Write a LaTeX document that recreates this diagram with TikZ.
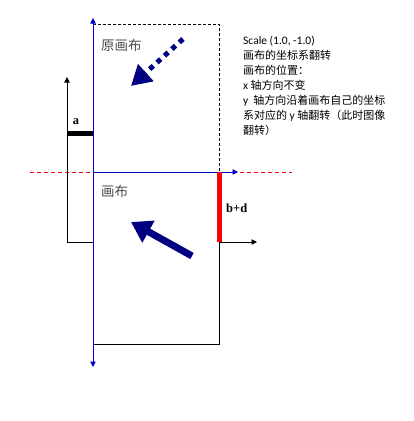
\documentclass[tikz,border=0pt]{standalone}
\usepackage{fontspec}
\setmainfont{Liberation Serif}
\newfontfamily\cjk{Noto Sans CJK SC}
\newfontfamily\calib{Carlito}
\usetikzlibrary{arrows.meta}
\definecolor{axblue}{RGB}{0,0,200}
\definecolor{navyc}{RGB}{0,0,128}
\begin{document}
\begin{tikzpicture}[x=1pt,y=-1pt,
  blueax/.style={axblue, line width=0.9pt, -{Triangle[length=5.5pt,width=5.5pt]}},
  blackax/.style={black, line width=0.9pt, -{Triangle[length=5.5pt,width=5.5pt]}},
  thinline/.style={black, line width=0.9pt},
  graytext/.style={text=black!70, font=\cjk\fontsize{13.5}{14}\selectfont, inner sep=0pt},
  barlabel/.style={font=\bfseries\fontsize{12.5}{13}\selectfont, inner sep=0pt}]
\useasboundingbox (0,0) rectangle (414,421);
% coordinates
\coordinate (O) at (93,172);
\coordinate (Otop) at (93,18);
\coordinate (Obot) at (93,367);
\coordinate (Hend) at (238,172);
\coordinate (DTL) at (93,24);
\coordinate (DTR) at (219,24);
\coordinate (DBR) at (219,172);
\coordinate (Rl) at (30,172);
\coordinate (Rr) at (292,172);
\coordinate (Ltop) at (67,77);
\coordinate (Lbot) at (67,242);
\coordinate (Lcorner) at (93,242);
\coordinate (Aleft) at (67,133);
\coordinate (Aright) at (93,133);
\coordinate (Bt) at (219,172);
\coordinate (Bb) at (219,242);
\coordinate (Xend) at (257,242);
\coordinate (RB) at (219,344);
\coordinate (LB) at (93,344);
% red dashed line
\draw[red, line width=0.7pt, dash pattern=on 4pt off 3pt] (Rl) -- (Rr);
% dashed original canvas
\draw[thinline, dash pattern=on 3pt off 2pt] (DTL) -- (DTR) -- (DBR);
% canvas rectangle
\draw[thinline] (Bb) -- (RB) -- (LB);
% left axis
\draw[blackax] (Lcorner) -- (Lbot) -- (Ltop);
% bar a
\draw[black, line width=5pt] (Aleft) -- (Aright);
\node[barlabel] (la) at (76,122) {a};
% x axis of new canvas
\draw[blackax] (Bb) -- (Xend);
% blue axes
\draw[blueax] (O) -- (Otop);
\draw[blueax] (O) -- (Obot);
\draw[blueax] (O) -- (Hend);
% red bar
\draw[red, line width=5pt] (Bt) -- (Bb);
\node[barlabel, anchor=west] (lbd) at (226,208) {b+d};
% texts
\node[graytext, anchor=west] (t1) at (101,45) {原画布};
\node[graytext, anchor=west] (t2) at (101,191) {画布};
% arrows
\coordinate (d1) at (183,39);
\coordinate (d2) at (131,86);
\draw[navyc, line width=5pt, dash pattern=on 5pt off 5pt, -{Triangle[length=20pt,width=22pt]}] (d1) -- (d2);
\coordinate (s1) at (192,256);
\coordinate (s2) at (131,222);
\draw[navyc, line width=7pt, -{Triangle[length=20pt,width=24pt]}] (s1) -- (s2);
% description
\node[anchor=north west, align=left, inner sep=0pt, font=\cjk\fontsize{11}{15}\selectfont] (desc) at (243,36)
 {{\calib\fontsize{11.5}{15}\selectfont Scale (1.0, -1.0)}\\
  画布的坐标系翻转\\
  画布的位置：\\
  {\calib\fontsize{11.5}{15}\selectfont x} 轴方向不变\\
  {\calib\fontsize{11.5}{15}\selectfont y}\ \ 轴方向沿着画布自己的坐标\\
  系对应的 {\calib\fontsize{11.5}{15}\selectfont y} 轴翻转（此时图像\\
  翻转）};
\end{tikzpicture}
\end{document}
